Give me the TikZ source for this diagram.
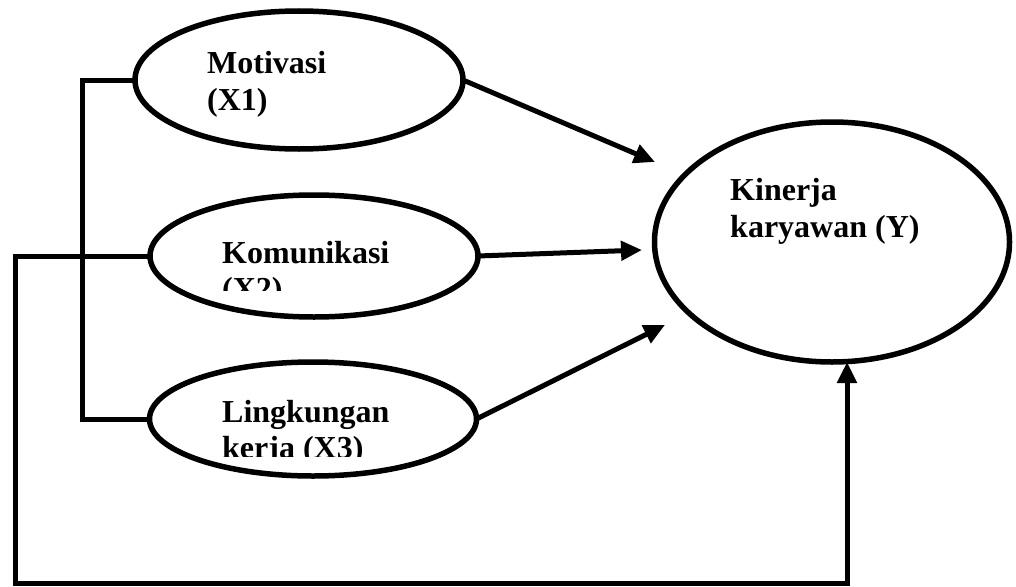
\documentclass[tikz,border=0pt]{standalone}
\usepackage{fontspec}
\setmainfont{Liberation Serif}
\usetikzlibrary{shapes.geometric,arrows.meta}
\tikzset{
  var/.style={ellipse, draw, line width=5.5pt, outer sep=0pt, inner sep=0pt},
  lbl/.style={anchor=base west, inner sep=0pt, font=\fontsize{32}{36}\selectfont\bfseries},
  conn/.style={line width=5pt},
  arr/.style={line width=5pt, -{Triangle[length=21pt,width=19pt]}}
}
\begin{document}
\begin{tikzpicture}[x=1pt,y=-1pt]
\useasboundingbox (0,0) rectangle (1016,586);
% ellipses
\node[var, minimum width=328pt, minimum height=138pt] (m) at (299,80) {};
\node[var, minimum width=328pt, minimum height=122pt] (k) at (314,256) {};
\node[var, minimum width=327pt, minimum height=114pt] (l) at (313,419) {};
\node[var, minimum width=355pt, minimum height=240pt] (y) at (832,242) {};
% labels
\node[lbl] (mt1) at (207,74) {Motivasi};
\node[lbl] (mt2) at (207,110) {(X1)};
\begin{scope}
\clip (200,220) rectangle (460,290);
\node[lbl] (kt1) at (222,263) {Komunikasi};
\node[lbl] (kt2) at (222,299) {(X2)};
\end{scope}
\begin{scope}
\clip (200,380) rectangle (460,456);
\node[lbl] (lt1) at (222,422) {Lingkungan};
\node[lbl] (lt2) at (222,458) {kerja (X3)};
\end{scope}
\node[lbl] (yt1) at (730,200) {Kinerja};
\node[lbl] (yt2) at (730,237) {karyawan (Y)};
% connector coordinates
\coordinate (t1) at (655,162);
\coordinate (t2) at (642,250);
\coordinate (t3) at (665,325);
\coordinate (c1) at (15,583);
\coordinate (c2) at (847,583);
% bracket between X1 and X3
\draw[conn] (m.west) -- ++(-53,0) |- (l.west);
% outer loop from X2 to Y
\draw[arr] (k.west) -| (c1) -- (c2) -- (c2 |- y.south);
% arrows to Y
\draw[arr] (m.east) -- (t1);
\draw[arr] (k.east) -- (t2);
\draw[arr] (l.east) -- (t3);
\end{tikzpicture}
\end{document}
